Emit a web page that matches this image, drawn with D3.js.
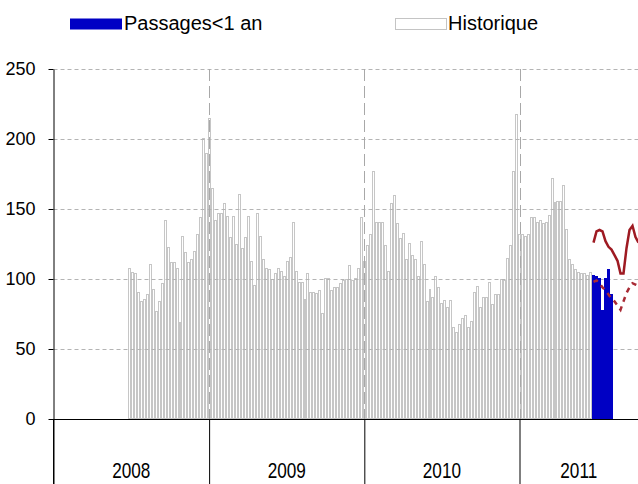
<!DOCTYPE html>
<html>
<head>
<meta charset="utf-8">
<script src="https://cdn.jsdelivr.net/npm/d3@7/dist/d3.min.js"></script>
<style>
  body { margin: 0; background: #fff; }
  svg { display: block; font-family: "Liberation Sans", Arial, sans-serif; }
</style>
</head>
<body>
<div id="chart"></div>
<script>
// weekly counts, first week starts 2008-06-24
const firstWeek = new Date(2008, 5, 24);
const hist2008 = [108, 105, 104, 91, 84, 86, 89, 111, 93, 77, 84, 97, 142, 123, 112, 112, 108,
    69, 131, 119, 112, 114, 120, 132, 144, 201, 190];
const hist2009 = [215, 165, 142, 147, 147, 154, 145, 130, 145, 125, 161, 122, 130, 145, 113, 96,
    147, 131, 114, 108, 107, 100, 104, 108, 106, 102, 113, 116, 141, 106, 98, 98, 86, 104, 91, 91,
    90, 92, 76, 101, 101, 92, 94, 94, 97, 99, 100, 110, 99, 101, 108, 144];
const hist2010 = [113, 124, 132, 177, 141, 141, 141, 124, 106, 154, 160, 140, 129, 133, 114, 126,
    117, 114, 102, 127, 111, 84, 93, 87, 102, 94, 83, 85, 80, 85, 66, 62, 68, 72, 74, 66, 70, 91,
    95, 80, 87, 87, 98, 82, 89, 89, 100, 99, 115, 124, 177, 218];
const hist2011 = [132, 132, 131, 132, 144, 144, 141, 142, 140, 141, 146, 172, 155, 156, 156, 167,
    136, 114, 111, 107, 105, 104, 104, 103, 105];
const passages = [103, 102, 101, 78, 101, 107, 89];          // blue bars, after the history
const upperLine = [126, 134, 135, 134, 127, 123, 121, 117, 113, 104, 104, 122, 135, 138, 130, 126];
const lowerLine = [98, 99, 97, 94, 92, 89, 86, 84, 81, 78, 84, 90, 94, 97, 96, 95];
const yTicks = [0, 50, 100, 150, 200, 250];
const years = [2008, 2009, 2010, 2011];
const legendLabels = ['Passages<1 an', 'Historique'];

const width = 638, height = 484;
const svg = d3.select('#chart').append('svg')
    .attr('width', width)
    .attr('height', height);
svg.append('rect').attr('width', width).attr('height', height).attr('fill', '#fff');

const x = d3.scaleTime()
    .domain([new Date(2008, 0, 1), new Date(2012, 0, 1)])
    .range([53.5, 674.7]);
const y = d3.scaleLinear()
    .domain([0, 250])
    .range([419, 69]);

const history = hist2008.concat(hist2009, hist2010, hist2011);
const week = i => d3.timeDay.offset(firstWeek, 7 * i);
const histData = history.map((v, i) => ({ date: week(i), value: v }));
const n = history.length;
const blueData = passages.map((v, i) => ({ date: week(n + i), value: v }));
const upperData = upperLine.map((v, i) => ({ date: week(n + i), value: v }));
const lowerData = lowerLine.map((v, i) => ({ date: week(n + i), value: v }));
const left = d => Math.round(x(d.date));
const right = d => Math.round(x(d3.timeDay.offset(d.date, 7)));

// historical bars: white with grey outline
svg.append('g')
    .selectAll('rect')
    .data(histData)
    .join('rect')
    .attr('x', d => left(d) + 0.5)
    .attr('y', d => Math.round(y(d.value)) + 0.5)
    .attr('width', d => right(d) - left(d) - 1)
    .attr('height', d => y(0) - Math.round(y(d.value)) - 0.5)
    .attr('fill', '#fff')
    .attr('stroke', '#c6c6c6')
    .attr('stroke-width', 1);

// horizontal grid
svg.append('g')
    .attr('transform', 'translate(53.5,0)')
    .call(d3.axisLeft(y).tickValues(yTicks.slice(1)).tickSize(-(width - 53.5)).tickFormat(''))
    .call(g => g.select('.domain').remove())
    .call(g => g.selectAll('line')
        .attr('stroke', '#b4b4b4')
        .attr('stroke-dasharray', '4,3'));

// vertical year grid
svg.append('g')
    .selectAll('line')
    .data(years.slice(1))
    .join('line')
    .attr('x1', d => Math.round(x(new Date(d, 0, 1))) + 0.5)
    .attr('x2', d => Math.round(x(new Date(d, 0, 1))) + 0.5)
    .attr('y1', y(250))
    .attr('y2', y(0))
    .attr('stroke', '#a8a8a8')
    .attr('stroke-dasharray', '12,5');

// blue bars
svg.append('g')
    .selectAll('rect')
    .data(blueData)
    .join('rect')
    .attr('x', d => left(d))
    .attr('y', d => Math.round(y(d.value)))
    .attr('width', d => right(d) - left(d))
    .attr('height', d => y(0) - Math.round(y(d.value)))
    .attr('fill', '#0000c4');

const line = d3.line()
    .x(d => (left(d) + right(d)) / 2)
    .y(d => y(d.value));

svg.append('path')
    .datum(upperData)
    .attr('d', line)
    .attr('fill', 'none')
    .attr('stroke', '#9e1a22')
    .attr('stroke-width', 2.5);

svg.append('path')
    .datum(lowerData)
    .attr('d', line)
    .attr('fill', 'none')
    .attr('stroke', '#a82a34')
    .attr('stroke-width', 2.5)
    .attr('stroke-dasharray', '5,5');

// y axis
const yAxis = svg.append('g')
    .attr('transform', 'translate(53.5,0)')
    .call(d3.axisLeft(y).tickValues(yTicks).tickSize(5).tickPadding(13).tickSizeOuter(0));
yAxis.select('.domain').attr('stroke', '#000');
yAxis.selectAll('line').attr('stroke', '#000');
yAxis.selectAll('text')
    .attr('fill', '#000')
    .style('font-size', '18px');
svg.append('line')
    .attr('x1', 53.5).attr('x2', 53.5)
    .attr('y1', y(0)).attr('y2', height)
    .attr('stroke', '#000');

// x axis: year separators
const xAxis = svg.append('g')
    .attr('transform', `translate(0,${y(0)})`)
    .call(d3.axisBottom(x)
        .tickValues(years.map(d => new Date(d, 0, 1)))
        .tickSize(70)
        .tickSizeOuter(0)
        .tickFormat(''));
xAxis.select('.domain').attr('stroke', '#000');
xAxis.selectAll('line').attr('stroke', '#000');

// year labels, centred on the visible part of each year, slightly condensed
svg.append('g')
    .selectAll('text')
    .data(years)
    .join('text')
    .attr('transform', d => {
        const a = Math.max(x(new Date(d, 0, 1)), 53.5);
        const b = Math.min(x(new Date(d + 1, 0, 1)), width);
        return `translate(${(a + b) / 2},478) scale(0.78,1)`;
    })
    .attr('text-anchor', 'middle')
    .style('font-size', '22px')
    .attr('fill', '#000')
    .text(d => d);

// legend
const legend = svg.append('g');
legend.append('rect')
    .attr('x', 70).attr('y', 18.5).attr('width', 52).attr('height', 11)
    .attr('fill', '#0000c4');
legend.append('text')
    .attr('x', 124).attr('y', 29.5)
    .style('font-size', '20px')
    .text(legendLabels[0]);
legend.append('rect')
    .attr('x', 395.5).attr('y', 18.5).attr('width', 51).attr('height', 11)
    .attr('fill', '#fff').attr('stroke', '#c4c4c4');
legend.append('text')
    .attr('x', 448).attr('y', 29.5)
    .style('font-size', '20px')
    .text(legendLabels[1]);
</script>
</body>
</html>
